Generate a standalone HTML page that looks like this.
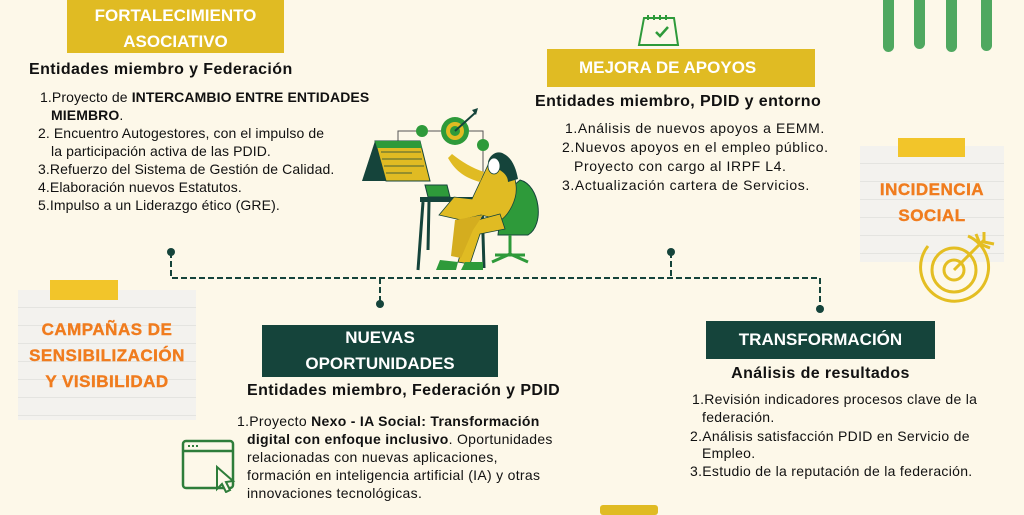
<!DOCTYPE html>
<html><head><meta charset="utf-8"><style>
*{margin:0;padding:0;box-sizing:border-box}
body{width:1024px;height:512px;background:#fdf8e9;position:relative;overflow:hidden;font-family:"Liberation Sans",sans-serif;color:#111}
.a{position:absolute;white-space:nowrap}
.box{position:absolute;color:#fff;font-weight:bold;text-align:center}
.h{position:absolute;font-weight:bold;font-size:16px;letter-spacing:0.4px;white-space:nowrap}
.li{position:absolute;font-size:14px;white-space:nowrap;line-height:18px}
.or{position:absolute;color:#f07c1e;font-weight:bold;text-align:center;font-size:17px;line-height:26px;letter-spacing:0.5px;-webkit-text-stroke:0.4px #f07c1e}
.note{position:absolute;background:#f3f2ee;background-image:repeating-linear-gradient(#f3f2ee 0 17px,#e4e4e0 17px 18px)}
.tape{position:absolute;background:#f2c52a}
</style></head><body>
<div class="box" style="left:67px;top:0;width:217px;height:53px;background:#e0bb23;font-size:17px;line-height:26px;padding-top:3px">FORTALECIMIENTO<br>ASOCIATIVO</div>
<div class="h" style="left:29px;top:61px">Entidades miembro y Federación</div>
<div style="letter-spacing:0.1px">
<div class="li" style="left:40px;top:88px">1.Proyecto de <b>INTERCAMBIO ENTRE ENTIDADES</b></div>
<div class="li" style="left:51px;top:106px"><b>MIEMBRO</b>.</div>
<div class="li" style="left:38px;top:124px">2.&nbsp;Encuentro Autogestores, con el impulso de</div>
<div class="li" style="left:51px;top:142px">la participación activa de las PDID.</div>
<div class="li" style="left:38px;top:160px">3.Refuerzo del Sistema de Gestión de Calidad.</div>
<div class="li" style="left:38px;top:178px">4.Elaboración nuevos Estatutos.</div>
<div class="li" style="left:38px;top:196px">5.Impulso a un Liderazgo ético (GRE).</div>
</div>

<svg class="a" style="left:636px;top:12px" width="44" height="36" viewBox="0 0 44 36"><path d="M8 6 H38 L42 33 H3 Z M8 6 L3 33" fill="none" stroke="#2e9a3a" stroke-width="2"/><path d="M12 3v5M18 3v5M24 3v5M30 3v5" stroke="#2e9a3a" stroke-width="2"/><path d="M20 20l4 4 8-9" fill="none" stroke="#2e9a3a" stroke-width="2.5"/></svg>
<div class="box" style="left:547px;top:49px;width:268px;height:38px;background:#e0bb23;font-size:17px;line-height:38px;text-align:left;padding-left:32px">MEJORA DE APOYOS</div>
<div class="h" style="left:535px;top:93px">Entidades miembro, PDID y entorno</div>
<div style="letter-spacing:0.6px">
<div class="li" style="left:565px;top:119px">1.Análisis de nuevos apoyos a EEMM.</div>
<div class="li" style="left:562px;top:138px">2.Nuevos apoyos en el empleo público.</div>
<div class="li" style="left:574px;top:157px">Proyecto con cargo al IRPF L4.</div>
<div class="li" style="left:562px;top:176px">3.Actualización cartera de Servicios.</div>
</div>

<div class="a" style="left:883px;top:-5px;width:11px;height:57px;background:#4fa860;border-radius:6px"></div>
<div class="a" style="left:914px;top:-5px;width:11px;height:54px;background:#4fa860;border-radius:6px"></div>
<div class="a" style="left:946px;top:-5px;width:11px;height:57px;background:#4fa860;border-radius:6px"></div>
<div class="a" style="left:981px;top:-5px;width:11px;height:56px;background:#4fa860;border-radius:6px"></div>

<div class="note" style="left:860px;top:146px;width:144px;height:116px"></div>
<div class="tape" style="left:898px;top:138px;width:67px;height:19px"></div>
<div class="or" style="left:860px;top:177px;width:144px">INCIDENCIA<br>SOCIAL</div>
<svg class="a" style="left:918px;top:228px" width="78" height="76" viewBox="0 0 78 76"><g fill="none" stroke="#e4be22" stroke-width="3"><path d="M10 18 A34 34 0 1 0 50 8"/><circle cx="36" cy="42" r="22"/><circle cx="36" cy="42" r="10"/><path d="M36 42 L66 12"/><path d="M58 6 L62 16 L72 20 M66 4 L66 14 L76 16"/></g></svg>

<div class="note" style="left:18px;top:290px;width:178px;height:130px"></div>
<div class="tape" style="left:50px;top:280px;width:68px;height:20px"></div>
<div class="or" style="left:18px;top:317px;width:178px">CAMPAÑAS DE<br>SENSIBILIZACIÓN<br>Y VISIBILIDAD</div>

<svg class="a" style="left:0;top:0" width="1024" height="512"><g stroke="#15443b" stroke-width="2" stroke-dasharray="6 3" fill="none"><path d="M171 252V278H820V310"/><path d="M380 278V304"/><path d="M671 252V278"/></g><g fill="#15443b"><circle cx="171" cy="252" r="4"/><circle cx="380" cy="304" r="4"/><circle cx="671" cy="252" r="4"/><circle cx="820" cy="309" r="4"/></g>
<g stroke="#555" stroke-width="1" fill="none"><path d="M398 141V131H416M428 131H441M469 131H483V139M483 151V172"/></g>
<polygon points="362,181 375,141 386,181" fill="#15443b"/>
<polygon points="375,141 420,141 430,181 386,181" fill="#e0bb23" stroke="#15443b" stroke-width="1"/>
<polygon points="375,141 420,141 422,148 377,148" fill="#2e9a3a"/>
<g fill="none" stroke="#15443b" stroke-width="0.8"><path d="M381 152h40M382 159h40M384 166h40M386 173h26"/></g>
<circle cx="455" cy="131" r="14" fill="#2e9a3a"/><circle cx="455" cy="131" r="9" fill="#e0bb23"/><circle cx="455" cy="131" r="5" fill="#2e9a3a"/>
<path d="M455 131L475 113" stroke="#15443b" stroke-width="2"/><path d="M472 110l6-2-2 7z" fill="#15443b"/>
<circle cx="422" cy="131" r="6" fill="#2e9a3a"/><circle cx="483" cy="145" r="6" fill="#2e9a3a"/>
<path d="M425 185h22l3 12h-22z" fill="#2e9a3a" stroke="#15443b"/>
<rect x="420" y="197" width="65" height="5" fill="#15443b"/>
<path d="M423 202L418 270M429 202L428 250M482 202L484 268" stroke="#15443b" stroke-width="3"/>
<path d="M520 180c20 5 25 45 8 55l-30 0 5-40z" fill="#2e9a3a" stroke="#15443b"/>
<path d="M510 235v18M495 255h30M492 262l18-8 18 8" stroke="#2e9a3a" stroke-width="3" fill="none"/>
<path d="M488 165c10-10 25-5 28 20 2 15-8 30-15 35l-20-5-20 5-22-5 15-18 18 2z" fill="#e0bb23" stroke="#15443b" stroke-width="0.8"/>
<path d="M452 154c10 8 20 14 32 18l-4 10c-14-4-24-10-32-24z" fill="#e0bb23"/>
<path d="M470 222l30-8 5 15-25 5-10 30-12-2z" fill="#e0bb23" stroke="#15443b" stroke-width="0.8"/>
<path d="M455 220l28-5-10 15-12 28-10-2z" fill="#d4ad1f"/>
<path d="M440 260l18 2-2 8-20 0zM465 262l18 0 0 8-22 0z" fill="#2e9a3a"/>
<path d="M488 162c2-8 10-12 16-8 8 4 12 14 14 25l-10 3c0-8-8-12-12-14z" fill="#15443b"/>
<ellipse cx="494" cy="166" rx="6" ry="8" fill="#fff" stroke="#15443b" stroke-width="0.8"/>
</svg>

<div class="box" style="left:262px;top:325px;width:236px;height:52px;background:#15443b;font-size:17px;line-height:26px">NUEVAS<br>OPORTUNIDADES</div>
<div class="h" style="left:247px;top:382px">Entidades miembro, Federación y PDID</div>
<div style="letter-spacing:0.3px">
<div class="li" style="left:237px;top:412px">1.Proyecto <b>Nexo - IA Social: Transformación</b></div>
<div class="li" style="left:247px;top:430px"><b>digital con enfoque inclusivo</b>. Oportunidades</div>
<div class="li" style="left:247px;top:448px">relacionadas con nuevas aplicaciones,</div>
<div class="li" style="left:247px;top:466px">formación en inteligencia artificial (IA) y otras</div>
<div class="li" style="left:247px;top:484px">innovaciones tecnológicas.</div>
</div>
<svg class="a" style="left:181px;top:439px" width="56" height="54" viewBox="0 0 56 54"><rect x="2" y="2" width="50" height="47" rx="3" fill="none" stroke="#2e7d3a" stroke-width="2.5"/><path d="M2 12h50" stroke="#2e7d3a" stroke-width="2.5"/><path d="M7 7h2M11 7h2M15 7h2" stroke="#2e7d3a" stroke-width="2"/><path d="M36 28l16 14-7 1 4 8-4 2-4-8-5 5z" fill="#fdf8e9" stroke="#2e7d3a" stroke-width="2"/></svg>

<div class="box" style="left:706px;top:321px;width:229px;height:38px;background:#15443b;font-size:17px;line-height:38px">TRANSFORMACIÓN</div>
<div class="h" style="left:706px;top:365px;width:229px;text-align:center">Análisis de resultados</div>
<div style="letter-spacing:0.3px">
<div class="li" style="left:692px;top:390px">1.Revisión indicadores procesos clave de la</div>
<div class="li" style="left:702px;top:408px">federación.</div>
<div class="li" style="left:690px;top:427px">2.Análisis satisfacción PDID en Servicio de</div>
<div class="li" style="left:702px;top:444px">Empleo.</div>
<div class="li" style="left:690px;top:462px">3.Estudio de la reputación de la federación.</div>
</div>
<div class="a" style="left:600px;top:505px;width:58px;height:10px;background:#e0bb23;border-radius:3px"></div>
</body></html>
